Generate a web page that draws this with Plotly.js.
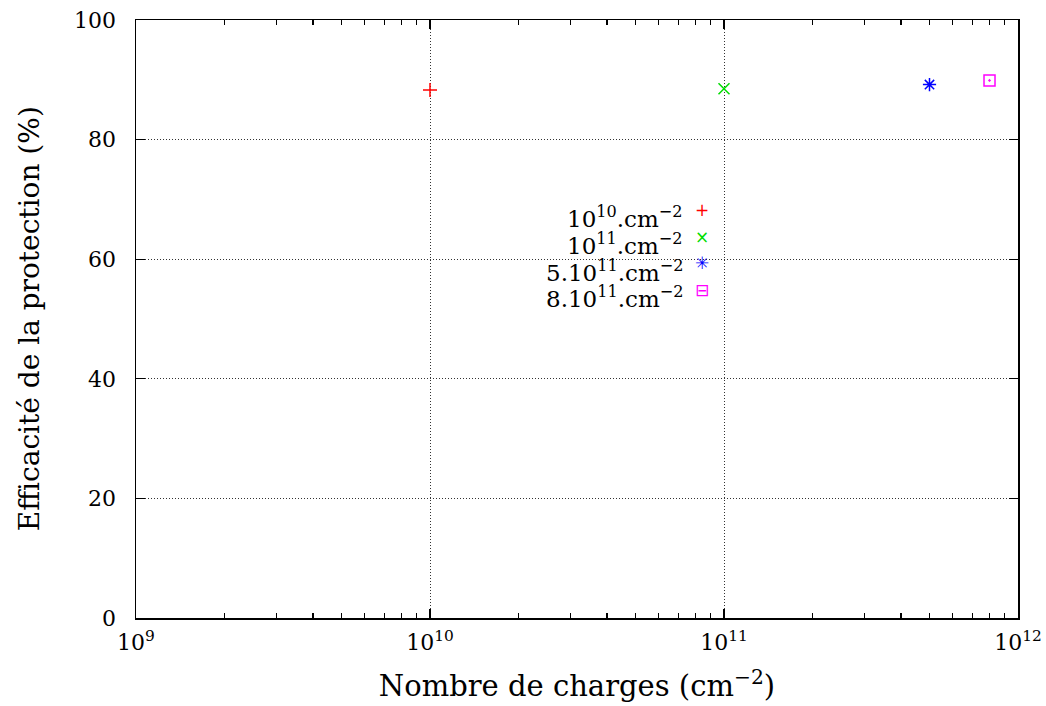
<!DOCTYPE html>
<html><head><meta charset="utf-8">
<script src="https://cdn.plot.ly/plotly-3.0.1.min.js"></script>
<style>body{margin:0;padding:0;background:#fff}#chart{width:1046px;height:706px}</style>
</head><body><div id="chart"></div>
<script>
const seriesLabels = ["10<sup>10</sup>.cm<sup>−2</sup>", "10<sup>11</sup>.cm<sup>−2</sup>", "5.10<sup>11</sup>.cm<sup>−2</sup>", "8.10<sup>11</sup>.cm<sup>−2</sup>"];
const charges = [1e10, 1e11, 5e11, 8e11];
const efficacite = [88.3, 88.5, 89.2, 89.9];
const colors = ["#ff0000", "#00dd00", "#0000ff", "#ff00ff"];
const symbols = ["cross-thin-open", "x-thin-open", "asterisk-open", "square-open-dot"];
const legendGlyphs = ["+", "×", "✳", "⊟"];
const xTickVals = [1e9, 1e10, 1e11, 1e12];
const xTickText = ["10<sup>9</sup>", "10<sup>10</sup>", "10<sup>11</sup>", "10<sup>12</sup>"];
const yTicks = [0, 20, 40, 60, 80, 100];
const xTitle = "Nombre de charges (cm<sup>−2</sup>)";
const yTitle = "Efficacité de la protection (%)";

const FONT = "DejaVu Serif";
const traces = charges.map((c, i) => ({
  x: [c], y: [efficacite[i]], type: "scatter", mode: "markers", name: seriesLabels[i],
  showlegend: false, cliponaxis: false,
  marker: {symbol: symbols[i], size: i === 0 ? 10 : 11, color: colors[i], line: {color: colors[i], width: 1.5}}
}));

const legendRowsY = [0.670, 0.625, 0.581, 0.536];
const annotations = [];
seriesLabels.forEach((lab, i) => {
  annotations.push({xref: "paper", yref: "paper", x: 0.622, y: legendRowsY[i], xanchor: "right", yanchor: "middle",
    text: lab, showarrow: false, font: {family: FONT, size: 23, color: "#000"}});
  annotations.push({xref: "paper", yref: "paper", x: 0.642, y: legendRowsY[i] + 0.012, xanchor: "center", yanchor: "middle",
    text: legendGlyphs[i], showarrow: false, font: {family: "DejaVu Sans", size: 17, color: colors[i]}});
});
annotations.push({xref: "paper", yref: "paper", x: -0.121, y: 0.5, xanchor: "center", yanchor: "middle",
  textangle: -90, text: yTitle, showarrow: false, font: {family: FONT, size: 28, color: "#000"}});

const minorX = [];
[1e9, 1e10, 1e11].forEach(d => { for (let k = 2; k <= 9; k++) minorX.push(k * d); });

const layout = {
  width: 1046, height: 706,
  margin: {l: 136, r: 28, t: 20, b: 88},
  paper_bgcolor: "#fff", plot_bgcolor: "#fff",
  font: {family: FONT, size: 20, color: "#000"},
  showlegend: false,
  xaxis: {
    type: "log", range: [9, 12], tickmode: "array", tickvals: xTickVals, ticktext: xTickText,
    ticks: "inside", ticklen: 9, tickwidth: 1.2, tickcolor: "#000",
    showline: true, linecolor: "#000", linewidth: 1.5, mirror: "ticks",
    showgrid: true, gridcolor: "#333", griddash: "1px,2px", gridwidth: 1,
    zeroline: false, ticklabelstandoff: 4,
    minor: {ticks: "inside", ticklen: 5, tickcolor: "#000", tickwidth: 1.2, tickmode: "array", tickvals: minorX, showgrid: false},
    tickfont: {family: FONT, size: 22},
    title: {text: xTitle, font: {family: FONT, size: 29}, standoff: 22}
  },
  yaxis: {
    range: [0, 100], tickmode: "array", tickvals: yTicks,
    ticks: "inside", ticklen: 9, tickwidth: 1.2, tickcolor: "#000",
    showline: true, linecolor: "#000", linewidth: 1.5, mirror: "ticks",
    showgrid: true, gridcolor: "#333", griddash: "1px,2px", gridwidth: 1,
    zeroline: false, ticklabelstandoff: 14,
    tickfont: {family: FONT, size: 22}
  },
  annotations: annotations
};
Plotly.newPlot("chart", traces, layout, {displayModeBar: false, staticPlot: true});
</script></body></html>
